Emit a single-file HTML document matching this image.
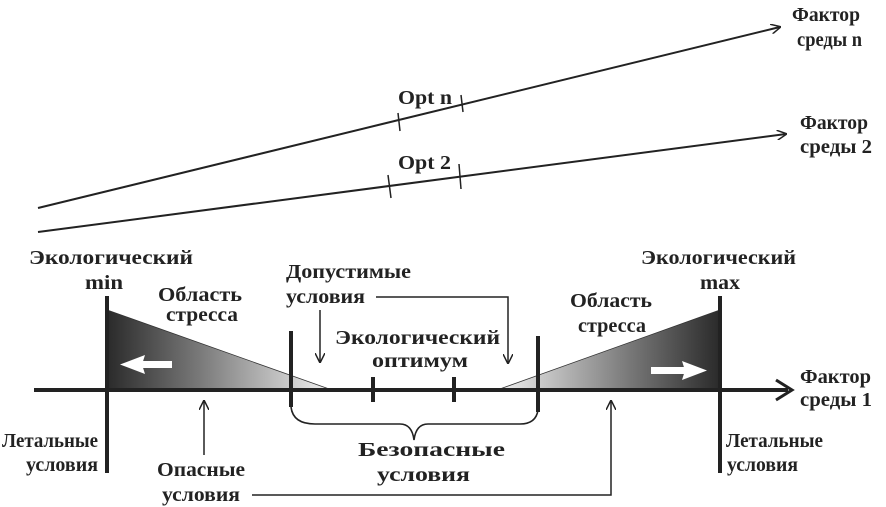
<!DOCTYPE html>
<html><head><meta charset="utf-8"><style>
html,body{margin:0;padding:0;background:#fff;}
svg{display:block}
text{font-family:"Liberation Serif",serif;font-weight:bold;font-size:20px;fill:#222}
</style></head><body>
<svg width="886" height="507" viewBox="0 0 886 507" xmlns="http://www.w3.org/2000/svg">
<defs>
<linearGradient id="gl" x1="0" x2="1" y1="0" y2="0">
<stop offset="0" stop-color="#2a2a2a"/><stop offset="0.4" stop-color="#777"/><stop offset="1" stop-color="#f2f2f2"/></linearGradient>
<linearGradient id="gr" x1="0" x2="1" y1="0" y2="0">
<stop offset="0" stop-color="#f2f2f2"/><stop offset="0.6" stop-color="#777"/><stop offset="1" stop-color="#2a2a2a"/></linearGradient>
<marker id="a" markerWidth="10" markerHeight="10" refX="9" refY="5" orient="auto" markerUnits="userSpaceOnUse"><path d="M0,0 L10,5 L0,10" fill="none" stroke="#222" stroke-width="1.5"/></marker>
</defs>
<line x1="38" y1="208" x2="780" y2="27" stroke="#222" stroke-width="2" marker-end="url(#a)"/>
<line x1="398" y1="113" x2="400" y2="131" stroke="#222" stroke-width="1.5"/>
<line x1="461" y1="95" x2="463" y2="112" stroke="#222" stroke-width="1.5"/>
<line x1="38" y1="232" x2="786" y2="134" stroke="#222" stroke-width="2" marker-end="url(#a)"/>
<line x1="388" y1="175" x2="391" y2="198" stroke="#222" stroke-width="1.5"/>
<line x1="459" y1="164" x2="461" y2="189" stroke="#222" stroke-width="1.5"/>
<text x="398" y="104" textLength="54" lengthAdjust="spacingAndGlyphs">Opt n</text>
<text x="398" y="169" textLength="53" lengthAdjust="spacingAndGlyphs">Opt 2</text>
<text x="792" y="21" textLength="68" lengthAdjust="spacingAndGlyphs">Фактор</text><text x="797" y="46" textLength="65" lengthAdjust="spacingAndGlyphs">среды n</text>
<text x="800" y="129" textLength="68" lengthAdjust="spacingAndGlyphs">Фактор</text><text x="800" y="153" textLength="72" lengthAdjust="spacingAndGlyphs">среды 2</text>
<polygon points="107,310 107,390 332,390" fill="url(#gl)" stroke="#333" stroke-width="0.8"/>
<polygon points="720,310 720,390 497,390" fill="url(#gr)" stroke="#333" stroke-width="0.8"/>
<line x1="34" y1="390" x2="788" y2="390" stroke="#222" stroke-width="4"/>
<path d="M776,380 L792,390 L776,400" fill="none" stroke="#222" stroke-width="3"/>
<line x1="107" y1="296" x2="107" y2="473" stroke="#222" stroke-width="4"/>
<line x1="720" y1="296" x2="720" y2="473" stroke="#222" stroke-width="4"/>
<line x1="291" y1="331" x2="291" y2="407" stroke="#222" stroke-width="4"/>
<line x1="538" y1="336" x2="538" y2="412" stroke="#222" stroke-width="4"/>
<line x1="373" y1="377" x2="373" y2="402" stroke="#222" stroke-width="4"/>
<line x1="454" y1="377" x2="454" y2="402" stroke="#222" stroke-width="4"/>
<rect x="140" y="361" width="32" height="7" fill="#fff"/>
<path d="M120,364.5 L145,355 L142,364.5 L145,374 Z" fill="#fff"/>
<rect x="651" y="367" width="38" height="7" fill="#fff"/>
<path d="M707,370.5 L682,361 L685,370.5 L682,380 Z" fill="#fff"/>
<path d="M291,407 Q293,424 315,424 L400,424 Q412,424 414,440 Q416,424 428,424 L520,424 Q536,424 538,410" fill="none" stroke="#222" stroke-width="1.6"/>
<line x1="320" y1="310" x2="320" y2="362" stroke="#222" stroke-width="1.5" marker-end="url(#a)"/>
<polyline points="376,297 508,297 508,363" fill="none" stroke="#222" stroke-width="1.5" marker-end="url(#a)"/>
<line x1="204" y1="455" x2="204" y2="401" stroke="#222" stroke-width="1.5" marker-end="url(#a)"/>
<polyline points="252,495 611,495 611,401" fill="none" stroke="#222" stroke-width="1.5" marker-end="url(#a)"/>
<text x="29" y="264" textLength="164" lengthAdjust="spacingAndGlyphs">Экологический</text><text x="85" y="289" textLength="38" lengthAdjust="spacingAndGlyphs">min</text>
<text x="158" y="301" textLength="84" lengthAdjust="spacingAndGlyphs">Область</text><text x="166" y="321" textLength="72" lengthAdjust="spacingAndGlyphs">стресса</text>
<text x="286" y="278" textLength="125" lengthAdjust="spacingAndGlyphs">Допустимые</text><text x="286" y="303" textLength="79" lengthAdjust="spacingAndGlyphs">условия</text>
<text x="335" y="344" textLength="165" lengthAdjust="spacingAndGlyphs">Экологический</text><text x="372" y="367" textLength="96" lengthAdjust="spacingAndGlyphs">оптимум</text>
<text x="2" y="447" textLength="96" lengthAdjust="spacingAndGlyphs">Летальные</text><text x="26" y="471" textLength="72" lengthAdjust="spacingAndGlyphs">условия</text>
<text x="157" y="476" textLength="88" lengthAdjust="spacingAndGlyphs">Опасные</text><text x="162" y="501" textLength="78" lengthAdjust="spacingAndGlyphs">условия</text>
<text x="358" y="456" textLength="147" lengthAdjust="spacingAndGlyphs">Безопасные</text><text x="377" y="481" textLength="93" lengthAdjust="spacingAndGlyphs">условия</text>
<text x="570" y="307" textLength="82" lengthAdjust="spacingAndGlyphs">Область</text><text x="578" y="332" textLength="68" lengthAdjust="spacingAndGlyphs">стресса</text>
<text x="641" y="264" textLength="155" lengthAdjust="spacingAndGlyphs">Экологический</text><text x="700" y="289" textLength="40" lengthAdjust="spacingAndGlyphs">max</text>
<text x="800" y="383" textLength="71" lengthAdjust="spacingAndGlyphs">Фактор</text><text x="800" y="406" textLength="72" lengthAdjust="spacingAndGlyphs">среды 1</text>
<text x="726" y="447" textLength="97" lengthAdjust="spacingAndGlyphs">Летальные</text><text x="727" y="471" textLength="71" lengthAdjust="spacingAndGlyphs">условия</text>
</svg>
</body></html>
